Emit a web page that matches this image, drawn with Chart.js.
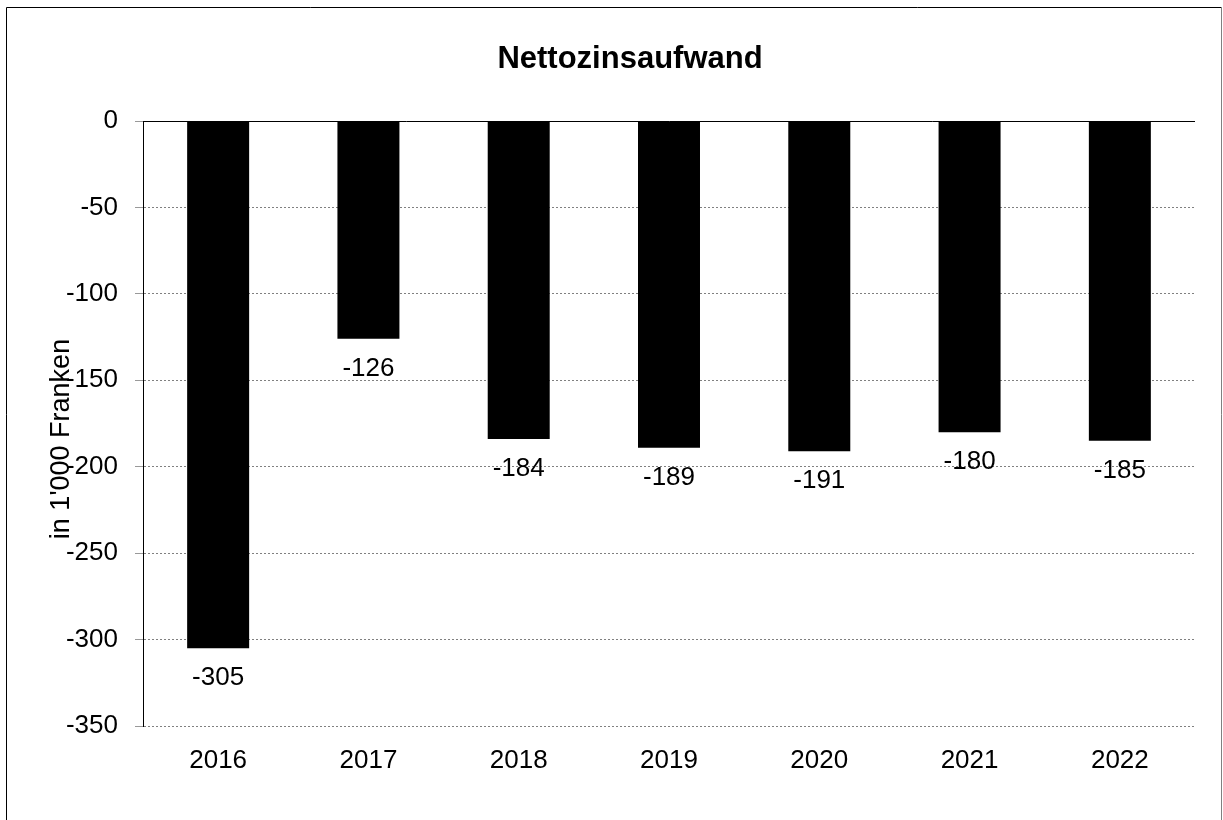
<!DOCTYPE html>
<html lang="de">
<head>
    <meta charset="UTF-8">
    <title>Nettozinsaufwand</title>
    <script src="https://cdn.jsdelivr.net/npm/chart.js"></script>
    <style>
        * {
            margin: 0;
            padding: 0;
            box-sizing: border-box;
        }
        body {
            background-color: #fff;
            width: 1223px;
            height: 820px;
            overflow: hidden;
        }
    </style>
</head>
<body>
    <canvas id="zinsChart" width="1223" height="820"></canvas>

    <script>
        // Daten
        const years = ['2016', '2017', '2018', '2019', '2020', '2021', '2022'];
        const nettozins = [-305, -126, -184, -189, -191, -180, -185];
        const yMin = -350;
        const yMax = 0;
        const yStep = 50;

        const chartTitle = 'Nettozinsaufwand';
        const yTitle = "in 1'000 Franken";
        const FONT = '"Liberation Sans", Arial, sans-serif';

        // Rahmen, Titel, Achsentitel und Werte
        const extras = {
            id: 'extras',
            afterDraw(chart) {
                const ctx = chart.ctx;
                ctx.save();
                // Rahmen
                ctx.lineWidth = 1;
                ctx.strokeStyle = '#000';
                ctx.beginPath();
                ctx.moveTo(6.5, 830);
                ctx.lineTo(6.5, 7.5);
                ctx.lineTo(1221.5, 7.5);
                ctx.stroke();
                ctx.strokeStyle = '#808080';
                ctx.beginPath();
                ctx.moveTo(1221.5, 7.5);
                ctx.lineTo(1221.5, 830);
                ctx.stroke();

                // Titel
                ctx.fillStyle = '#000';
                ctx.font = 'bold 31px ' + FONT;
                ctx.textAlign = 'center';
                ctx.textBaseline = 'middle';
                ctx.fillText(chartTitle, 630, 59);

                // Achsentitel
                ctx.save();
                ctx.translate(62, 439);
                ctx.rotate(-Math.PI / 2);
                ctx.font = '27px ' + FONT;
                ctx.fillText(yTitle, 0, 0);
                ctx.restore();

                // Werte unter den Balken
                ctx.font = '26px ' + FONT;
                const meta = chart.getDatasetMeta(0);
                meta.data.forEach((bar, i) => {
                    ctx.fillText(String(nettozins[i]), bar.x, bar.y + 30);
                });
                ctx.restore();
            }
        };

        new Chart(document.getElementById('zinsChart'), {
            type: 'bar',
            data: {
                labels: years,
                datasets: [{
                    data: nettozins,
                    backgroundColor: '#000',
                    borderWidth: 0,
                    barPercentage: 0.4125,
                    categoryPercentage: 1
                }]
            },
            options: {
                responsive: false,
                animation: false,
                devicePixelRatio: 1,
                layout: {
                    padding: { top: 121, right: 28, bottom: 0, left: 0 }
                },
                plugins: {
                    legend: { display: false },
                    tooltip: { enabled: false }
                },
                scales: {
                    x: {
                        afterFit(scale) { scale.height = 94; },
                        grid: { display: false, drawTicks: false },
                        border: { display: false },
                        ticks: {
                            color: '#000',
                            padding: 19,
                            font: { family: FONT, size: 26 }
                        }
                    },
                    y: {
                        min: yMin,
                        max: yMax,
                        afterFit(scale) { scale.width = 143; },
                        grid: {
                            color: (c) => c.tick && c.tick.value === 0 ? '#000' : '#808080',
                            lineWidth: 1,
                            tickColor: '#999',
                            tickLength: 8
                        },
                        border: {
                            display: true,
                            color: '#000',
                            width: 1,
                            dash: (c) => c.tick && c.tick.value === 0 ? [] : [2, 2]
                        },
                        ticks: {
                            stepSize: yStep,
                            color: '#000',
                            padding: 17,
                            font: { family: FONT, size: 26 }
                        }
                    }
                }
            },
            plugins: [extras]
        });
    </script>
</body>
</html>
